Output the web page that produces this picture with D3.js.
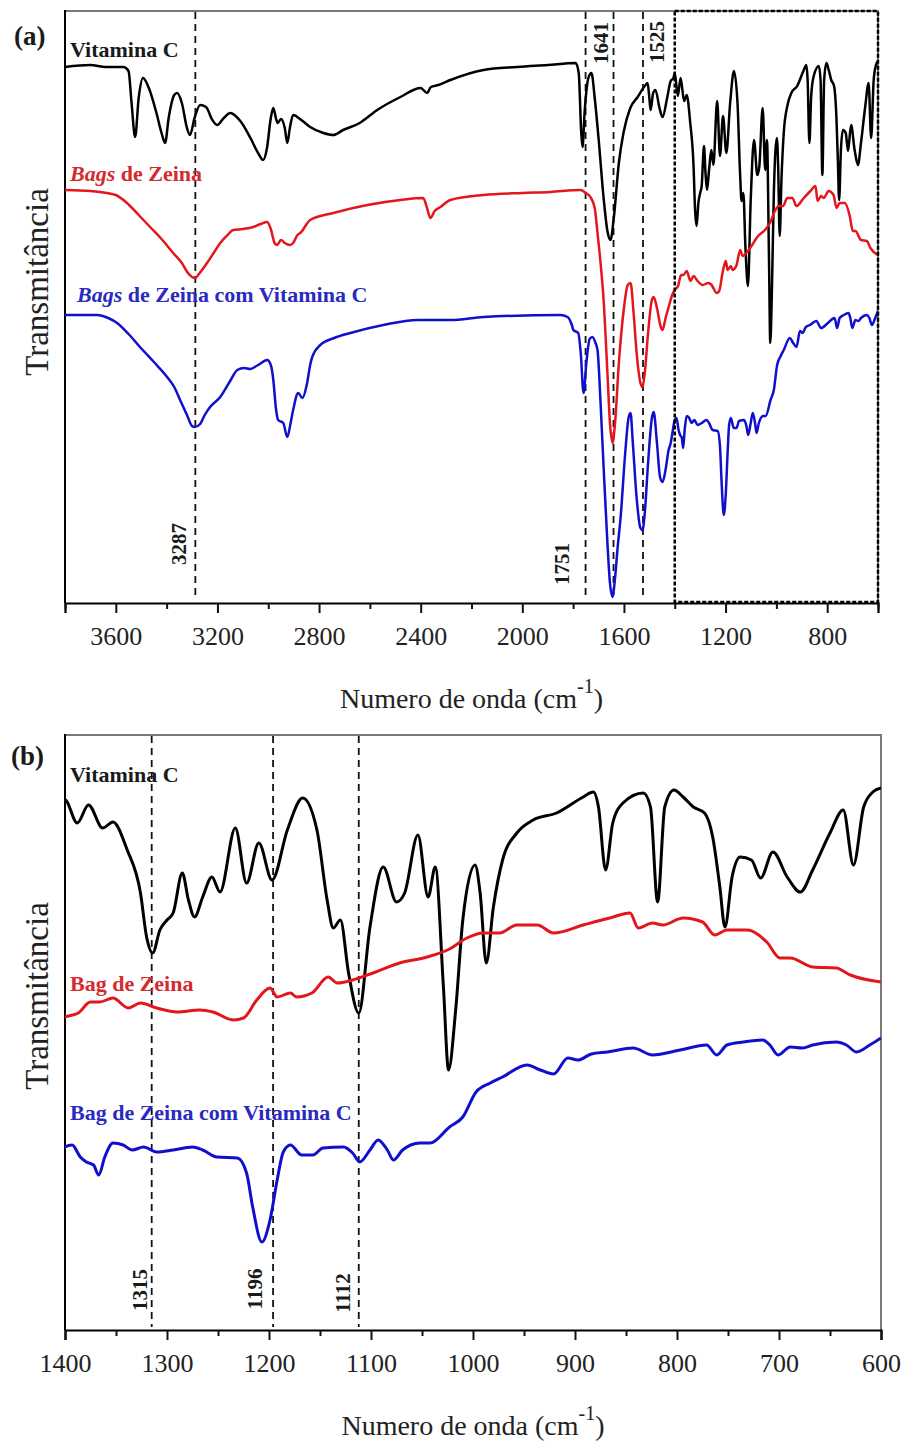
<!DOCTYPE html>
<html>
<head>
<meta charset="utf-8">
<script src="https://cdn.jsdelivr.net/npm/d3@7"></script>
<style>body{margin:0;background:#fff}</style>
</head>
<body>
<script>
const width = 906, height = 1443;

// FTIR spectra, [wavenumber (cm-1), transmittance (a.u., offset)]
const vitaminaC = [
  [3800,53.6],[3700,53.8],[3640,53.6],[3570,53.6],[3550,53.2],[3538,50],[3524,46.6],[3510,50.5],[3493,52.5],[3470,51.5],
  [3440,49],[3420,47],[3406,46.0],[3392,48.5],[3370,50.8],[3359,51.0],[3340,50],[3320,47.5],[3308,46.8],[3290,48.5],
  [3268,49.8],[3245,49.6],[3220,48.3],[3201,47.8],[3175,48.5],[3150,49.0],[3110,48.2],[3070,46.5],[3040,45],[3020,44.3],
  [3005,45.5],[2990,48.5],[2980,49.5],[2970,48.5],[2963,48.0],[2950,48.4],[2935,47.5],[2925,46.0],[2915,47.5],[2902,48.8],
  [2870,48.3],[2835,47.6],[2783,47.0],[2744,46.8],[2705,47.3],[2640,48.0],[2571,49.3],[2480,50.6],[2400,51.5],[2375,51.0],
  [2360,51.6],[2330,51.8],[2283,52.3],[2153,53.3],[2019,53.6],[1900,53.8],[1790,54.0],[1778,53.0],[1768,47],[1763,45.6],
  [1755,49],[1740,52.5],[1728,53.0],[1715,50.5],[1700,46.5],[1680,40.5],[1665,37.2],[1653,36.3],[1640,38.5],[1620,44],
  [1602,47.0],[1575,49.5],[1546,50.6],[1515,51.8],[1507,52.0],[1500,50.5],[1495,49.3],[1485,51.0],[1476,51.3],[1460,49.5],
  [1448,48.6],[1430,50.5],[1416,52.2],[1405,52.5],
  [1400,53.0],[1388,50.7],[1377,52.5],[1363,50.2],[1353,50.8],[1339,48.0],[1326,43.7],[1320,39.3],[1314,37.7],[1307,40.0],
  [1300,41.0],[1294,41.7],[1285,45.7],[1279,43.0],[1273,41.3],[1265,43.3],[1256,45.3],[1248,43.8],[1233,50.2],[1222,44.7],
  [1210,48.7],[1197,45.0],[1182,50.0],[1167,53.2],[1153,50.0],[1143,43.0],[1137,40.2],[1130,41.0],[1122,35.7],[1112,31.7],
  [1101,40.3],[1088,46.3],[1075,42.8],[1067,43.7],[1054,49.5],[1044,43.3],[1037,46.3],[1029,34.3],[1024,26.0],[1017,32],
  [1010,41.0],[998,46.5],[993,43.7],[987,36.7],[980,42.3],[971,47.0],[957,49.7],[941,51.0],[918,51.7],[892,53.3],
  [882,53.8],[877,52.3],[870,46.0],[863,50.7],[853,52.7],[833,53.7],[826,52.3],[819,42.8],[812,52.3],[803,54.0],
  [794,53.3],[784,52.3],[773,51.7],[765,49.3],[758,44.3],[753,40.3],[746,45.3],[738,47.3],[727,47.0],[718,45.2],
  [706,47.8],[692,45.3],[679,43.8],[667,46.0],[650,49.7],[637,52.0],[627,46.5],[617,52.3],[608,53.8],[600,54.2]
];
const bagsZeina = [
  [3800,41.3],[3700,41.2],[3662,41.1],[3600,40.8],[3556,40.0],[3510,38.8],[3465,37.6],[3420,36.4],[3374,35.0],[3340,34.0],
  [3319,33.1],[3300,32.6],[3288,32.5],[3270,33.0],[3241,34.0],[3215,35.0],[3189,36.0],[3160,36.8],[3138,37.3],[3100,37.4],
  [3059,37.6],[3030,37.9],[3004,38.1],[2990,37.4],[2975,36.0],[2965,35.8],[2950,36.3],[2935,36.0],[2915,35.8],[2902,36.0],
  [2885,36.8],[2874,37.0],[2835,38.3],[2744,39.0],[2610,39.8],[2480,40.3],[2390,40.5],[2375,39.5],[2362,38.5],[2345,39.2],
  [2322,39.6],[2283,40.3],[2153,40.8],[2000,41.0],[1889,41.1],[1771,41.3],[1750,41.0],[1732,40.6],[1715,39.5],[1704,37.0],
  [1692,34],[1680,30.3],[1665,23],[1655,18],[1645,16.0],[1635,18],[1620,24],[1600,29.5],[1585,31.8],[1574,32.0],
  [1562,29],[1550,25],[1535,22],[1527,21.6],[1518,23],[1505,27],[1490,30.3],[1483,30.6],[1470,29.5],[1455,27.6],
  [1448,27.3],[1436,28.5],[1424,29.6],[1410,30.8],
  [1400,31.3],[1387,31.7],[1375,32.8],[1366,32.8],[1353,33.2],[1338,32.2],[1326,32.7],[1310,32.2],[1290,31.8],[1268,32.0],
  [1255,31.8],[1235,31.0],[1225,31.2],[1212,33.0],[1199,34.2],[1192,33.3],[1179,33.7],[1173,33.3],[1158,33.7],[1142,35.3],
  [1133,34.7],[1118,35.0],[1098,35.7],[1072,36.7],[1045,37.3],[1023,38.1],[1006,39.2],[990,39.7],[974,39.7],[957,40.5],
  [937,40.5],[921,39.7],[892,40.5],[866,41.2],[846,41.7],[838,40.2],[824,40.7],[814,40.5],[794,41.2],[775,40.8],
  [763,39.5],[751,40.0],[731,40.0],[712,38.8],[699,37.2],[689,37.2],[667,36.3],[644,36.2],[630,35.5],[600,34.8]
];
const bagsZeinaVitC = [
  [3800,28.8],[3674,28.8],[3630,28.5],[3595,28.0],[3550,26.9],[3505,25.6],[3450,24.1],[3398,22.6],[3370,21.6],[3347,20.3],
  [3320,18.8],[3300,17.7],[3290,17.6],[3268,17.9],[3250,18.8],[3229,19.6],[3189,20.6],[3150,22.2],[3122,23.3],[3095,23.5],
  [3071,23.4],[3040,23.8],[3004,24.3],[2990,23.8],[2980,22.3],[2970,19.5],[2961,18.3],[2941,18.0],[2925,16.6],[2912,18.0],
  [2902,19.3],[2882,21.0],[2866,20.5],[2847,22.0],[2835,23.8],[2827,24.6],[2795,25.8],[2740,26.5],[2677,27.0],[2547,27.8],
  [2413,28.3],[2283,28.3],[2153,28.6],[1850,28.8],[1822,28.6],[1805,27.8],[1799,27.3],[1780,27.0],[1770,25],[1759,21.0],
  [1748,24],[1735,26.4],[1724,26.6],[1712,26.0],[1704,25.3],[1692,20],[1680,13.6],[1665,6],[1655,2.0],[1645,0.6],
  [1635,2.5],[1625,5.5],[1613,8.6],[1595,15],[1582,18.5],[1574,19.0],[1565,16],[1550,10.5],[1535,7.5],[1527,7.3],
  [1518,9],[1505,14],[1490,18.5],[1483,19.1],[1470,16],[1458,12.6],[1448,12.1],[1435,13.5],[1425,15.2],[1416,16.0],
  [1408,17.2],
  [1400,18.3],[1393,18.5],[1385,17.3],[1379,16.8],[1372,16.5],[1367,15.5],[1361,17.3],[1353,18.7],[1343,18.5],[1334,18.0],
  [1323,18.3],[1310,17.8],[1294,18.0],[1275,18.3],[1265,18.0],[1251,17.3],[1231,17.2],[1222,15.7],[1216,12.3],[1207,8.8],
  [1199,11.0],[1192,15.0],[1186,17.8],[1179,18.5],[1168,17.5],[1157,17.5],[1147,18.2],[1127,18.3],[1118,17.7],[1111,16.8],
  [1101,18.0],[1093,19.0],[1084,18.0],[1078,17.0],[1069,18.0],[1052,18.7],[1042,18.7],[1023,20.3],[1010,21.3],[997,23.8],
  [983,24.7],[971,25.3],[947,26.5],[934,26.0],[921,25.6],[907,27.2],[897,27.0],[884,27.6],[868,27.8],[843,28.2],
  [824,27.5],[797,28.0],[771,28.5],[761,27.5],[751,28.5],[735,28.8],[716,29.0],[709,28.5],[701,27.5],[689,28.3],
  [677,28.2],[667,28.5],[644,28.8],[634,28.5],[624,27.8],[611,28.5],[600,29.2]
];

const rangeA = [3800, 600];
const rangeB = [1400, 600];          // region boxed in (a), shown in (b)
const majorTicksA = [3600, 3200, 2800, 2400, 2000, 1600, 1200, 800];
const minorTicksA = [3800, 3400, 3000, 2600, 2200, 1800, 1400, 1000, 600];
const majorTicksB = [1400, 1300, 1200, 1100, 1000, 900, 800, 700, 600];
const minorTicksB = [1350, 1250, 1150, 1050, 950, 850, 750, 650];
const peaksA = [3287, 1751, 1641, 1525];
const peaksB = [1315, 1196, 1112];
const namesA = ["Vitamina C", "Bags de Zeina", "Bags de Zeina com Vitamina C"];
const namesB = ["Vitamina C", "Bag de Zeina", "Bag de Zeina com Vitamina C"];

const series = [
  {data: vitaminaC, color: "#000000", text: "#1a1a1a"},
  {data: bagsZeina, color: "#e3161d", text: "#d42a30"},
  {data: bagsZeinaVitC, color: "#1010cc", text: "#2a2ac0"}
];

const serif = "'Liberation Serif', 'Times New Roman', serif";
const svg = d3.select("body").append("svg")
  .attr("width", width).attr("height", height)
  .style("font-family", serif);

function drawPanel(p) {
  const x = d3.scaleLinear().domain(p.domain).range([p.left, p.right]);
  const y = d3.scaleLinear().domain([0, (p.bottom - p.top) / 10]).range([p.bottom, p.top]);
  const g = svg.append("g");

  const clipId = "clip" + p.tag;
  g.append("clipPath").attr("id", clipId).append("rect")
    .attr("x", p.left).attr("y", p.top - 5)
    .attr("width", p.right - p.left).attr("height", p.bottom - p.top + 5);

  // frame (top and right in grey)
  g.append("path")
    .attr("d", `M${p.left},${p.top}H${p.right}V${p.bottom}`)
    .attr("fill", "none").attr("stroke", "#7a7a7a").attr("stroke-width", 2);
  g.append("line")
    .attr("x1", p.left).attr("x2", p.left).attr("y1", p.top - 1).attr("y2", p.bottom)
    .attr("stroke", "#000").attr("stroke-width", 2);

  // dashed peak lines
  g.selectAll(".peak").data(p.peaks).join("line")
    .attr("x1", d => x(d)).attr("x2", d => x(d))
    .attr("y1", p.top + 1).attr("y2", p.bottom - 3)
    .attr("stroke", "#111").attr("stroke-width", 1.8)
    .attr("stroke-dasharray", "7,5");

  g.selectAll(".peakLabel").data(p.peaks).join("text")
    .attr("transform", (d, i) => `translate(${x(d) + p.peakDx[i]},${p.peakY[i]}) rotate(-90)`)
    .attr("text-anchor", "middle")
    .attr("font-size", 21).attr("font-weight", "bold").attr("fill", "#1a1a1a")
    .text(d => d);

  // spectra
  const line = d3.line()
    .x(d => x(d[0])).y(d => y(d[1]))
    .curve(d3.curveMonotoneX);
  g.append("g").attr("clip-path", `url(#${clipId})`)
    .selectAll("path").data(series).join("path")
    .attr("d", s => line(s.data.filter(d => d[0] <= p.domain[0] + 20)))
    .attr("fill", "none").attr("stroke", s => s.color)
    .attr("stroke-width", p.lineWidth)
    .attr("stroke-linejoin", "round");

  // series labels
  series.forEach((s, i) => {
    const t = g.append("text")
      .attr("x", p.labelX[i]).attr("y", p.labelY[i])
      .attr("font-size", 22).attr("font-weight", "bold").attr("fill", s.text);
    const name = p.names[i];
    if (p.italicBags && name.startsWith("Bags")) {
      t.append("tspan").attr("font-style", "italic").text("Bags");
      t.append("tspan").text(name.slice(4));
    } else {
      t.text(name);
    }
  });

  // x axis
  const axisG = g.append("g").attr("transform", `translate(0,${p.bottom})`);
  axisG.call(d3.axisBottom(x).tickValues(p.major).tickSize(10).tickFormat(d3.format("d")));
  axisG.append("g").call(d3.axisBottom(x).tickValues(p.minor).tickSize(6).tickFormat(""))
    .select(".domain").remove();
  axisG.selectAll(".domain").attr("stroke-width", 2.2).attr("stroke", "#000");
  axisG.selectAll(".tick line").attr("stroke-width", 2).attr("stroke", "#111");
  axisG.selectAll(".tick text")
    .attr("y", 42).attr("dy", null)
    .attr("font-family", serif).attr("font-size", 26).attr("fill", "#222");

  // axis titles
  const xt = g.append("text")
    .attr("x", (p.left + p.right) / 2).attr("y", p.bottom + 105)
    .attr("text-anchor", "middle").attr("font-size", 28).attr("fill", "#222");
  xt.append("tspan").text("Numero de onda (cm");
  xt.append("tspan").attr("dy", -15).attr("font-size", 20).text("-1");
  xt.append("tspan").attr("dy", 15).text(")");

  g.append("text")
    .attr("transform", `translate(${p.left - 17},${p.yTitleY}) rotate(-90)`)
    .attr("text-anchor", "middle").attr("font-size", 33).attr("fill", "#222")
    .text("Transmitância");

  g.append("text")
    .attr("x", p.tagX).attr("y", p.tagY)
    .attr("font-size", 27).attr("font-weight", "bold").attr("fill", "#1a1a1a")
    .text(`(${p.tag})`);

  return {x, y, g};
}

const a = drawPanel({
  tag: "a", domain: rangeA, left: 65, right: 878, top: 11, bottom: 603,
  major: majorTicksA, minor: minorTicksA, peaks: peaksA,
  peakDx: [-9, -17, -6, 21], peakY: [544, 564, 43, 42],
  names: namesA, italicBags: true,
  labelX: [70, 70, 77], labelY: [57, 181, 302],
  lineWidth: 2.5, yTitleY: 282, tagX: 14, tagY: 45
});

// dashed box marking the region expanded in (b)
a.g.append("rect")
  .attr("x", a.x(rangeB[0])).attr("y", 11)
  .attr("width", a.x(rangeB[1]) - a.x(rangeB[0]))
  .attr("height", 603 - 11 - 1)
  .attr("fill", "none").attr("stroke", "#000").attr("stroke-width", 2.5)
  .attr("stroke-dasharray", "4,2");

drawPanel({
  tag: "b", domain: rangeB, left: 65, right: 881, top: 735, bottom: 1330,
  major: majorTicksB, minor: minorTicksB, peaks: peaksB,
  peakDx: [-5, -11, -9], peakY: [1290, 1289, 1293],
  names: namesB, italicBags: false,
  labelX: [70, 70, 70], labelY: [782, 991, 1120],
  lineWidth: 3, yTitleY: 996, tagX: 11, tagY: 765
});
</script>
</body>
</html>
